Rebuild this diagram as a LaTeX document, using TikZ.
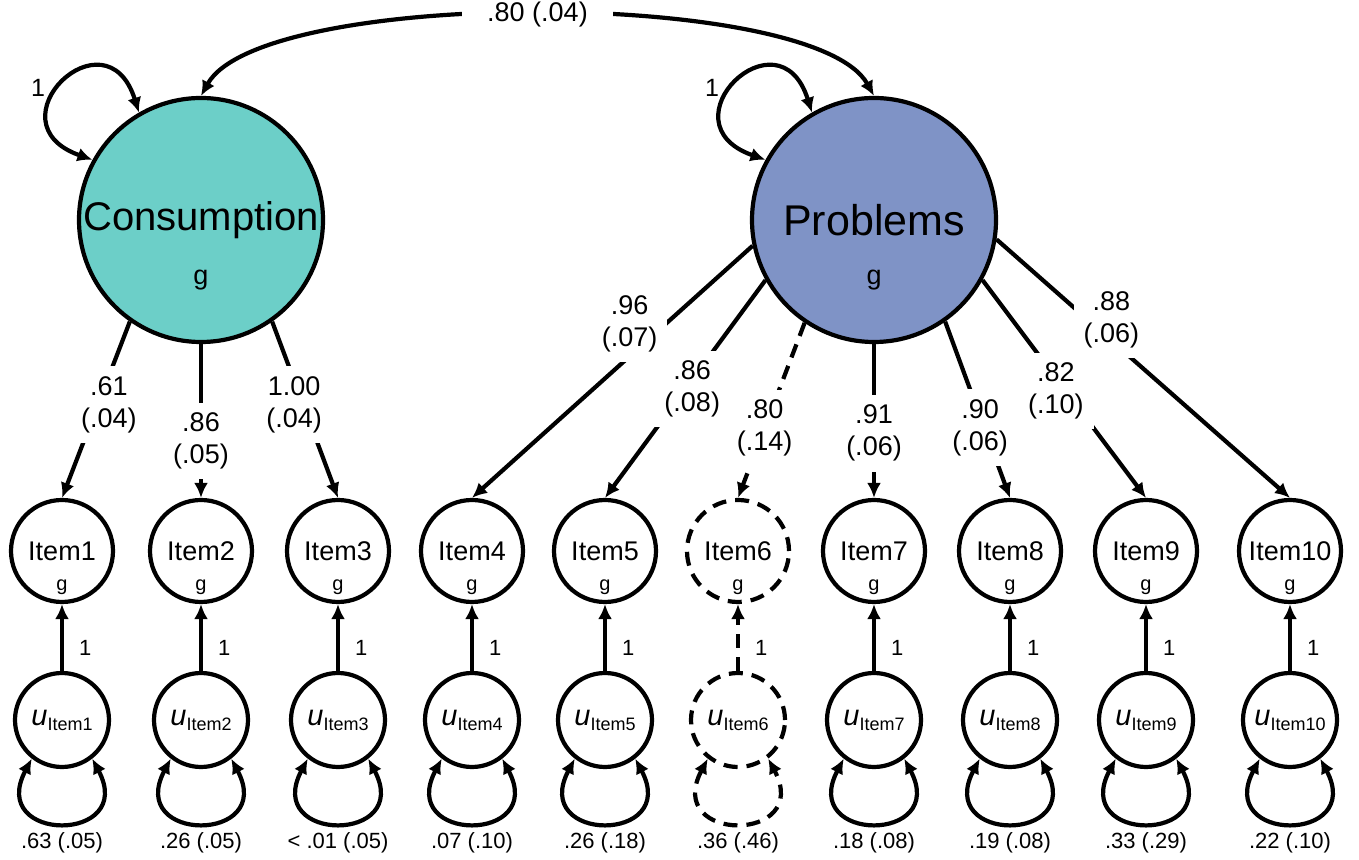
\documentclass[tikz,border=0pt]{standalone}
\usepackage{fontspec}
\setmainfont{Liberation Sans}
\usetikzlibrary{arrows.meta}
\definecolor{conscol}{HTML}{6CCFC8}
\definecolor{probcol}{HTML}{7F93C6}
\newcommand{\fsz}[1]{\fontsize{#1}{#1}\selectfont}
\newcommand{\uit}[1]{{\fsz{29}\itshape u}\raisebox{-5pt}{\fsz{18}#1}}
\begin{document}
\begin{tikzpicture}[x=1pt, y=1pt, line width=4.2pt,
    every node/.style={inner sep=0pt},
    latent/.style={circle, draw, minimum size=244pt, font=\fsz{40}},
    item/.style={circle, draw, fill=white, minimum size=102pt, font=\fsz{27}},
    resid/.style={circle, draw, fill=white, minimum size=94pt},
    gsub/.style={font=\fsz{20}, yshift=-36pt},
    gbig/.style={font=\fsz{27}, yshift=-60pt},
    load/.style={fill=white, inner sep=10pt, align=center, font=\fontsize{27}{32}\selectfont},
    var/.style={font=\fsz{22}},
    one/.style={font=\fsz{22}},
    arr/.style={-{Latex[length=15pt,width=14pt]}},
    both/.style={{Latex[length=15pt,width=14pt]}-{Latex[length=15pt,width=14pt]}},
    dsh/.style={dash pattern=on 14pt off 9pt}]
        \useasboundingbox (0,0) rectangle (1359,859);
        % latent factors
        \node[latent, fill=conscol, label={[gbig]center:g}] (cons) at (201,639) {Consumption};
        \node[latent, fill=probcol, font=\fsz{43}, label={[gbig]center:g}] (prob) at (874,639) {Problems};
        % indicators
        \node[item, label={[gsub]center:g}] (i1) at (62,308) {Item1};
        \node[item, label={[gsub]center:g}] (i2) at (201,308) {Item2};
        \node[item, label={[gsub]center:g}] (i3) at (338,308) {Item3};
        \node[item, label={[gsub]center:g}] (i4) at (472,308) {Item4};
        \node[item, label={[gsub]center:g}] (i5) at (605,308) {Item5};
        \node[item, dsh, label={[gsub]center:g}] (i6) at (738,308) {Item6};
        \node[item, label={[gsub]center:g}] (i7) at (874,308) {Item7};
        \node[item, label={[gsub]center:g}] (i8) at (1010,308) {Item8};
        \node[item, label={[gsub]center:g}] (i9) at (1146,308) {Item9};
        \node[item, label={[gsub]center:g}] (i10) at (1290,308) {Item10};
        % residuals
        \node[resid] (u1) at (62,139) {\uit{Item1}};
        \node[resid] (u2) at (201,139) {\uit{Item2}};
        \node[resid] (u3) at (338,139) {\uit{Item3}};
        \node[resid] (u4) at (472,139) {\uit{Item4}};
        \node[resid] (u5) at (605,139) {\uit{Item5}};
        \node[resid, dsh] (u6) at (738,139) {\uit{Item6}};
        \node[resid] (u7) at (874,139) {\uit{Item7}};
        \node[resid] (u8) at (1010,139) {\uit{Item8}};
        \node[resid] (u9) at (1146,139) {\uit{Item9}};
        \node[resid] (u10) at (1290,139) {\uit{Item10}};
        % factor variances and covariance
        \node[font=\fsz{25}] (c1) at (38,771) {1};
        \node[font=\fsz{25}] (p1) at (712,771) {1};
        \draw[both] (cons.120) .. controls +(-33,105) and +(-105,37) .. (cons.151);
        \draw[both] (prob.120) .. controls +(-33,105) and +(-105,37) .. (prob.151);
        \draw[both] (cons.north) .. controls +(60,108) and +(-60,108) .. node[fill=white, inner xsep=25pt, inner ysep=4pt, font=\fsz{27}] {.80 (.04)} (prob.north);
        % loadings
        \draw[arr] (cons.235) -- node[load, pos=0.47, xshift=11pt] {.61\\(.04)} (i1.north);
        \draw[arr] (cons.270) -- node[load, pos=0.63] {.86\\(.05)} (i2.north);
        \draw[arr] (cons.305) -- node[load, pos=0.47, xshift=-9pt] {1.00\\(.04)} (i3.north);
        \draw[arr] (prob.192) -- node[load, pos=0.36, xshift=-22pt, yshift=13pt] {.96\\(.07)} (i4.north);
        \draw[arr] (prob.209) -- node[load, pos=0.5, xshift=7pt] {.86\\(.08)} (i5.north);
        \draw[arr, dsh] (prob.236) -- node[load, pos=0.6] {.80\\(.14)} (i6.north);
        \draw[arr] (prob.270) -- node[load, pos=0.58] {.91\\(.06)} (i7.north);
        \draw[arr] (prob.305) -- node[load, pos=0.6, xshift=-4pt] {.90\\(.06)} (i8.north);
        \draw[arr] (prob.331) -- node[load, pos=0.51, xshift=-10pt] {.82\\(.10)} (i9.north);
        \draw[arr] (prob.351) -- node[load, pos=0.35, xshift=12pt, yshift=10pt] {.88\\(.06)} (i10.north);
        % residual paths
        \draw[arr] (u1) -- node[one, pos=0.35, right=15pt] {1} (i1);
        \draw[arr] (u2) -- node[one, pos=0.35, right=15pt] {1} (i2);
        \draw[arr] (u3) -- node[one, pos=0.35, right=15pt] {1} (i3);
        \draw[arr] (u4) -- node[one, pos=0.35, right=15pt] {1} (i4);
        \draw[arr] (u5) -- node[one, pos=0.35, right=15pt] {1} (i5);
        \draw[arr, dsh] (u6) -- node[one, pos=0.35, right=15pt] {1} (i6);
        \draw[arr] (u7) -- node[one, pos=0.35, right=15pt] {1} (i7);
        \draw[arr] (u8) -- node[one, pos=0.35, right=15pt] {1} (i8);
        \draw[arr] (u9) -- node[one, pos=0.35, right=15pt] {1} (i9);
        \draw[arr] (u10) -- node[one, pos=0.35, right=15pt] {1} (i10);
        % residual variances
        \draw[both] (u1.-128) .. controls +(-45,-85) and +(45,-85) .. (u1.-52);
        \draw[both] (u2.-128) .. controls +(-45,-85) and +(45,-85) .. (u2.-52);
        \draw[both] (u3.-128) .. controls +(-45,-85) and +(45,-85) .. (u3.-52);
        \draw[both] (u4.-128) .. controls +(-45,-85) and +(45,-85) .. (u4.-52);
        \draw[both] (u5.-128) .. controls +(-45,-85) and +(45,-85) .. (u5.-52);
        \draw[both, dsh] (u6.-128) .. controls +(-45,-85) and +(45,-85) .. (u6.-52);
        \draw[both] (u7.-128) .. controls +(-45,-85) and +(45,-85) .. (u7.-52);
        \draw[both] (u8.-128) .. controls +(-45,-85) and +(45,-85) .. (u8.-52);
        \draw[both] (u9.-128) .. controls +(-45,-85) and +(45,-85) .. (u9.-52);
        \draw[both] (u10.-128) .. controls +(-45,-85) and +(45,-85) .. (u10.-52);
        \node[var] (v1) at (62,16) {.63 (.05)};
        \node[var] (v2) at (201,16) {.26 (.05)};
        \node[var] (v3) at (338,16) {< .01 (.05)};
        \node[var] (v4) at (472,16) {.07 (.10)};
        \node[var] (v5) at (605,16) {.26 (.18)};
        \node[var] (v6) at (738,16) {.36 (.46)};
        \node[var] (v7) at (874,16) {.18 (.08)};
        \node[var] (v8) at (1010,16) {.19 (.08)};
        \node[var] (v9) at (1146,16) {.33 (.29)};
        \node[var] (v10) at (1290,16) {.22 (.10)};
    \end{tikzpicture}
\end{document}
